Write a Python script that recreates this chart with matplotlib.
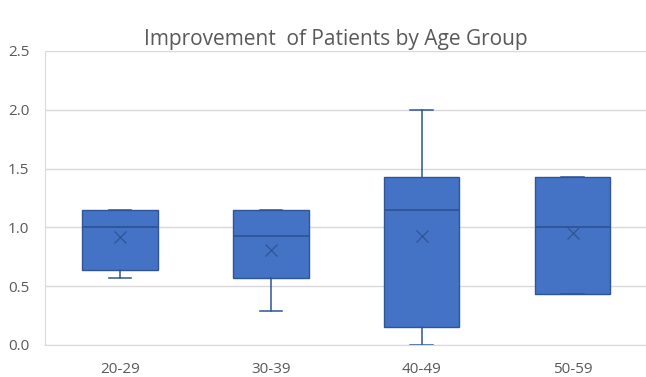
import matplotlib.pyplot as plt

# Improvement scores summarised per age group
groups = ["20-29", "30-39", "40-49", "50-59"]
q1 = [0.64, 0.57, 0.15, 0.43]
median = [1.00, 0.93, 1.15, 1.00]
q3 = [1.15, 1.15, 1.43, 1.43]
whisker_low = [0.57, 0.29, 0.00, 0.43]
whisker_high = [1.15, 1.15, 2.00, 1.43]
mean = [0.92, 0.81, 0.93, 0.95]

stats = []
for i, g in enumerate(groups):
    stats.append({
        "label": g,
        "q1": q1[i],
        "med": median[i],
        "q3": q3[i],
        "whislo": whisker_low[i],
        "whishi": whisker_high[i],
        "mean": mean[i],
        "fliers": [],
    })

fill = "#4472C4"
edge = "#2F5597"
text_col = "#595959"
grid_col = "#D9D9D9"

fig = plt.figure(figsize=(6.46, 3.77), dpi=100)
ax = fig.add_axes([0.069, 0.085, 0.934, 0.78])

positions = list(range(1, len(groups) + 1))
ax.bxp(stats, positions=positions, widths=0.5, patch_artist=True,
       showmeans=True, meanline=False,
       boxprops=dict(facecolor=fill, edgecolor=edge, linewidth=1),
       medianprops=dict(color=edge, linewidth=1.3),
       whiskerprops=dict(color=edge, linewidth=1.1),
       capprops=dict(color=edge, linewidth=1.1),
       capwidths=0.15,
       meanprops=dict(marker="x", markeredgecolor=edge, markersize=8,
                      markeredgewidth=0.9))

ax.set_xlim(0.5, len(groups) + 0.5)
ax.set_ylim(0, 2.5)
ax.set_yticks([0, 0.5, 1.0, 1.5, 2.0, 2.5])
ax.set_yticklabels(["0.0", "0.5", "1.0", "1.5", "2.0", "2.5"])
ax.set_xticks(positions)
ax.set_xticklabels(groups)

ax.yaxis.grid(True, color=grid_col, linewidth=1)
ax.set_axisbelow(True)
for side in ["top", "right"]:
    ax.spines[side].set_visible(False)
ax.spines["left"].set_color(grid_col)
ax.spines["bottom"].set_color(grid_col)
ax.tick_params(length=0, colors=text_col, labelsize=11)
ax.tick_params(axis="x", pad=12)
ax.tick_params(axis="y", pad=11)
for lbl in ax.get_xticklabels() + ax.get_yticklabels():
    lbl.set_fontfamily("Open Sans")

fig.text(0.52, 0.895, "Improvement  of Patients by Age Group", ha="center",
         va="center", fontsize=15, color=text_col, fontfamily="Open Sans")

fig.savefig("out.png", dpi=100)
